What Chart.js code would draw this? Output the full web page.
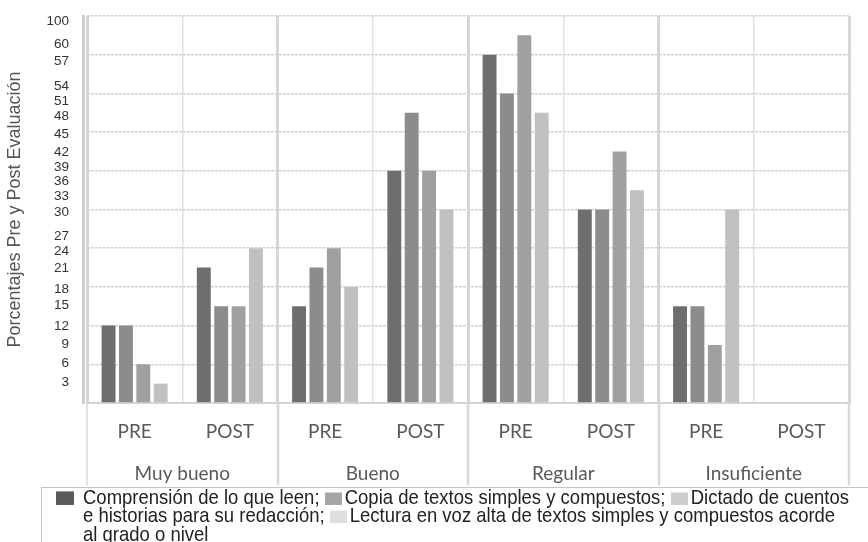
<!DOCTYPE html>
<html>
<head>
<meta charset="utf-8">
<script src="https://cdn.jsdelivr.net/npm/chart.js@4/dist/chart.umd.min.js"></script>
<style>
  html, body { margin: 0; padding: 0; background: #fff; }
  #wrap { position: relative; width: 868px; height: 542px; overflow: hidden; }
  #chartBox { position: absolute; left: 0; top: 0; width: 868px; height: 488px; }
  #legend {
    position: absolute; left: 41px; top: 487px; width: 900px; height: 80px;
    border: 1px solid #c4c4c4; box-sizing: border-box; background: #fff;
  }
  #legendText {
    position: absolute; left: 41px; top: 0px; width: 770px;
    font-family: "Liberation Sans", Arial, sans-serif; font-size: 18.5px; line-height: 16.4px;
    color: #222; transform: scaleY(1.13); transform-origin: 0 0; white-space: normal;
  }
  .sw { display: inline-block; width: 17px; height: 11px; vertical-align: -1px; }
</style>
</head>
<body>
<div id="wrap">
  <div id="chartBox"><canvas id="c"></canvas></div>
  <div id="legend"><div id="legendText"></div></div>
</div>
<script>
// ---- data ----
const groups = ['Muy bueno', 'Bueno', 'Regular', 'Insuficiente'];
const phases = ['PRE', 'POST', 'PRE', 'POST', 'PRE', 'POST', 'PRE', 'POST'];
const seriesNames = [
  'Comprensión de lo que leen',
  'Copia de textos simples y compuestos',
  'Dictado de cuentos e historias para su redacción',
  'Lectura en voz alta de textos simples y compuestos acorde al grado o nivel'
];
const comprension = [12, 21, 15, 36, 54, 30, 15, 0];
const copia       = [12, 15, 21, 45, 48, 30, 15, 0];
const dictado     = [6, 15, 24, 36, 57, 39, 9, 0];
const lectura     = [3, 24, 18, 30, 45, 33, 30, 0];
// y-axis tick labels as printed, and where they sit on the value axis
const tickLabels  = ['3','6','9','12','15','18','21','24','27','30','33','36','39','42','45','48','51','54','57','60','100'];
const tickAnchors = [3.2, 6.2, 9.1, 11.9, 15.1, 17.6, 20.9, 23.5, 25.8, 29.5, 32.0, 34.3, 36.6, 38.9, 41.6, 44.4, 46.8, 49.1, 53.0, 55.6, 59.2];

// ---- styles ----
const barColors = ['#6e6e6e', '#8c8c8c', '#a0a0a0', '#c0c0c0'];
const swatchColors = ['#595959', '#a6a6a6', '#cccccc', '#dedede'];
const seriesValues = [comprension, copia, dictado, lectura];

const isGroupLine = (ctx) => ctx.index === undefined || ctx.index % 2 === 0;

// vertical group separators through the two rows of category labels
const groupSeparators = {
  id: 'groupSeparators',
  afterDraw(chart) {
    const x = chart.scales.x, x2 = chart.scales.x2;
    const ctx = chart.ctx;
    const n = groups.length;
    const w = (x2.right - x2.left) / n;
    ctx.save();
    ctx.strokeStyle = '#d8d8d8';
    for (let g = 0; g <= n; g++) {
      const px = Math.round(x2.left + w * g);
      ctx.lineWidth = (g === 0) ? 1.5 : 2.5;
      ctx.beginPath();
      ctx.moveTo(px, x.top);
      ctx.lineTo(px, x2.bottom);
      ctx.stroke();
    }
    ctx.restore();
  }
};

const labelFont = { family: 'Lato, "Open Sans", sans-serif', size: 19 };

const chart = new Chart(document.getElementById('c'), {
  type: 'bar',
  data: {
    labels: phases,
    datasets: seriesValues.map((vals, i) => ({
      label: seriesNames[i],
      data: vals,
      backgroundColor: barColors[i],
      borderWidth: 0,
      barPercentage: 0.8,
      categoryPercentage: 0.73,
      xAxisID: 'x',
      yAxisID: 'y'
    }))
  },
  plugins: [groupSeparators],
  options: {
    responsive: true,
    maintainAspectRatio: false,
    animation: false,
    layout: { padding: { top: 16, left: 4, right: 19, bottom: 2.6 } },
    plugins: { legend: { display: false }, tooltip: { enabled: false } },
    scales: {
      x: {
        type: 'category',
        position: 'bottom',
        weight: 0,
        offset: true,
        grid: {
          offset: true,
          drawOnChartArea: true,
          drawTicks: true,
          tickLength: 7.4,
          tickColor: 'rgba(0,0,0,0)',
          color: (ctx) => isGroupLine(ctx) ? '#d6d6d6' : '#e2e2e2',
          lineWidth: (ctx) => isGroupLine(ctx) ? 3 : 1.5
        },
        border: { display: true, color: '#d4d4d4', width: 2 },
        ticks: {
          padding: 10.2,
          color: '#595959',
          font: labelFont,
          maxRotation: 0, autoSkip: false
        }
      },
      x2: {
        type: 'category',
        labels: groups,
        position: 'bottom',
        weight: 1,
        offset: true,
        grid: { display: false },
        border: { display: false },
        ticks: {
          padding: 0.5,
          color: '#595959',
          font: labelFont,
          maxRotation: 0, autoSkip: false
        }
      },
      y: {
        type: 'linear',
        position: 'left',
        weight: 0,
        min: 0, max: 60,
        ticks: { display: false, stepSize: 6 },
        grid: {
          color: '#d2d2d2',
          lineWidth: 1.5,
          drawTicks: true,
          tickLength: 4,
          tickColor: 'rgba(0,0,0,0)'
        },
        border: { display: false, dash: [3, 1] }
      },
      y2: {
        type: 'linear',
        position: 'left',
        weight: 1,
        min: 0, max: 60,
        afterBuildTicks: (scale) => { scale.ticks = tickAnchors.map(v => ({ value: v })); },
        afterFit: (scale) => { scale.width = 79; },
        grid: { display: false },
        border: { display: true, color: '#d0d0d0', width: 3 },
        ticks: {
          padding: 6,
          color: '#333',
          font: { family: '"Liberation Sans", Arial, sans-serif', size: 13.5 },
          autoSkip: false,
          callback: (value, index) => tickLabels[index]
        },
        title: {
          display: true,
          text: 'Porcentajes Pre y Post Evaluación',
          color: '#555',
          font: { family: '"Liberation Sans", Arial, sans-serif', size: 18 },
          padding: { top: 0, bottom: 0 }
        }
      }
    }
  }
});

// ---- HTML legend built from the datasets ----
const lt = document.getElementById('legendText');
chart.data.datasets.forEach((ds, i) => {
  const sw = document.createElement('span');
  sw.className = 'sw';
  sw.style.background = swatchColors[i];
  if (i === 0) { sw.style.marginLeft = '-27px'; sw.style.width = '18px'; sw.style.height = '12px'; sw.style.marginRight = '9px'; }
  else { sw.style.marginRight = '3px'; }
  lt.appendChild(sw);
  const sep = i < chart.data.datasets.length - 1 ? '; ' : '';
  lt.appendChild(document.createTextNode(ds.label + sep));
});
</script>
</body>
</html>
